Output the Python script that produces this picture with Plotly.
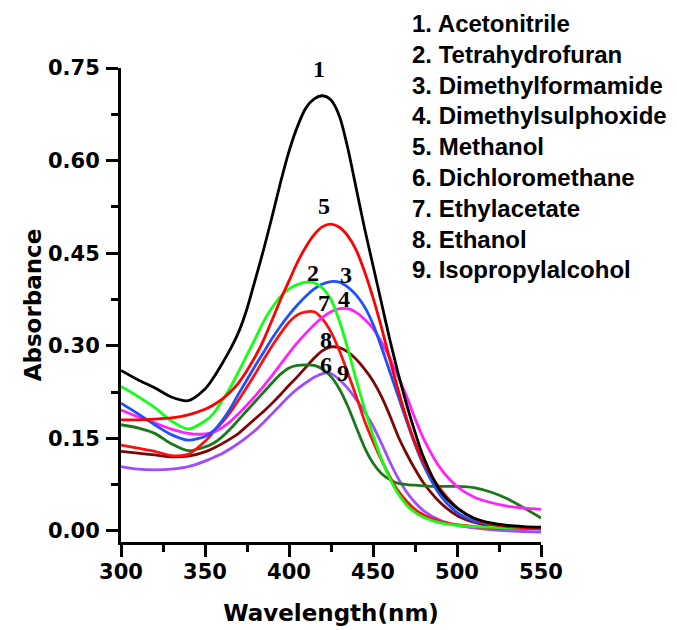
import plotly.graph_objects as go

# Wavelength grid (nm)
wavelength = [300, 310, 320, 330, 340, 350, 355, 360, 365, 370, 375, 380, 385, 390, 395,
              400, 405, 410, 415, 420, 425, 430, 435, 440, 445, 450, 455, 460, 465, 470,
              475, 480, 490, 500, 510, 520, 530, 540, 550]

acetonitrile = [0.260, 0.245, 0.232, 0.217, 0.211, 0.230, 0.248, 0.270, 0.294, 0.322, 0.360, 0.408, 0.457, 0.510, 0.565,
                0.615, 0.655, 0.685, 0.700, 0.705, 0.698, 0.672, 0.620, 0.555, 0.490, 0.430, 0.370, 0.310, 0.255, 0.205,
                0.160, 0.120, 0.065, 0.037, 0.021, 0.013, 0.009, 0.007, 0.006]
tetrahydrofuran = [0.234, 0.218, 0.200, 0.178, 0.165, 0.178, 0.190, 0.210, 0.232, 0.258, 0.285, 0.312, 0.340, 0.362, 0.380,
                   0.392, 0.399, 0.403, 0.402, 0.393, 0.375, 0.340, 0.295, 0.245, 0.198, 0.155, 0.117, 0.085, 0.060, 0.042,
                   0.030, 0.022, 0.013, 0.009, 0.007, 0.006, 0.005, 0.005, 0.005]
dimethylformamide = [0.207, 0.190, 0.172, 0.156, 0.147, 0.153, 0.162, 0.178, 0.198, 0.222, 0.245, 0.268, 0.290, 0.312, 0.332,
                     0.350, 0.366, 0.380, 0.392, 0.400, 0.404, 0.403, 0.395, 0.382, 0.363, 0.335, 0.298, 0.258, 0.218, 0.178,
                     0.140, 0.107, 0.058, 0.030, 0.016, 0.010, 0.006, 0.004, 0.003]
dimethylsulphoxide = [0.196, 0.185, 0.175, 0.165, 0.158, 0.157, 0.160, 0.167, 0.177, 0.190, 0.204, 0.219, 0.235, 0.252, 0.270,
                      0.288, 0.305, 0.320, 0.334, 0.346, 0.355, 0.360, 0.360, 0.354, 0.343, 0.328, 0.306, 0.280, 0.250, 0.218,
                      0.182, 0.150, 0.102, 0.072, 0.055, 0.046, 0.040, 0.037, 0.035]
methanol = [0.180, 0.180, 0.181, 0.183, 0.188, 0.197, 0.204, 0.213, 0.225, 0.240, 0.260, 0.283, 0.310, 0.342, 0.375,
            0.405, 0.435, 0.460, 0.480, 0.493, 0.497, 0.492, 0.478, 0.455, 0.420, 0.378, 0.330, 0.278, 0.228, 0.182,
            0.143, 0.112, 0.068, 0.038, 0.020, 0.011, 0.007, 0.005, 0.004]
dichloromethane = [0.172, 0.167, 0.158, 0.141, 0.130, 0.136, 0.142, 0.152, 0.165, 0.180, 0.195, 0.210, 0.225, 0.240, 0.254,
                   0.264, 0.268, 0.269, 0.268, 0.262, 0.250, 0.230, 0.202, 0.168, 0.135, 0.110, 0.093, 0.083, 0.077, 0.075,
                   0.074, 0.073, 0.072, 0.072, 0.070, 0.063, 0.052, 0.037, 0.021]
ethylacetate = [0.139, 0.134, 0.129, 0.122, 0.124, 0.145, 0.160, 0.175, 0.192, 0.212, 0.233, 0.255, 0.278, 0.300, 0.320,
                0.338, 0.350, 0.355, 0.355, 0.343, 0.322, 0.292, 0.256, 0.218, 0.178, 0.145, 0.115, 0.088, 0.065, 0.048,
                0.035, 0.026, 0.015, 0.010, 0.007, 0.005, 0.004, 0.004, 0.004]
ethanol = [0.129, 0.126, 0.123, 0.120, 0.121, 0.128, 0.134, 0.141, 0.149, 0.158, 0.170, 0.182, 0.194, 0.207, 0.221,
           0.236, 0.250, 0.265, 0.280, 0.292, 0.298, 0.297, 0.290, 0.278, 0.262, 0.243, 0.218, 0.187, 0.153, 0.125,
           0.100, 0.078, 0.046, 0.025, 0.014, 0.008, 0.006, 0.005, 0.004]
isopropylalcohol = [0.104, 0.100, 0.099, 0.100, 0.104, 0.113, 0.119, 0.125, 0.133, 0.142, 0.152, 0.163, 0.176, 0.190, 0.204,
                    0.218, 0.230, 0.240, 0.249, 0.255, 0.255, 0.245, 0.231, 0.213, 0.193, 0.170, 0.142, 0.112, 0.085, 0.063,
                    0.046, 0.033, 0.017, 0.009, 0.005, 0.002, 0.000, -0.001, -0.002]

solvent_names = ["Acetonitrile", "Tetrahydrofuran", "Dimethylformamide", "Dimethylsulphoxide",
                 "Methanol", "Dichloromethane", "Ethylacetate", "Ethanol", "Isopropylalcohol"]
series = [acetonitrile, tetrahydrofuran, dimethylformamide, dimethylsulphoxide,
          methanol, dichloromethane, ethylacetate, ethanol, isopropylalcohol]
colors = ["#000000", "#11FF11", "#1F4FFF", "#FF22FF", "#FF0000", "#1A781A", "#FF1010", "#7F0505", "#A04CFF"]

# Curve-number label positions (data units)
label_x = [418, 414, 434, 433, 421, 422, 421, 422, 432]
label_y = [0.748, 0.418, 0.415, 0.375, 0.526, 0.269, 0.369, 0.310, 0.256]

x_ticks = [300, 350, 400, 450, 500, 550]
y_ticks = [0.00, 0.15, 0.30, 0.45, 0.60, 0.75]
y_ticktext = ["0.00", "0.15", "0.30", "0.45", "0.60", "0.75"]

fig = go.Figure()
draw_order = [8, 7, 5, 6, 3, 2, 1, 4, 0]
for i in draw_order:
    fig.add_trace(go.Scatter(
        x=wavelength, y=series[i], mode="lines", name=solvent_names[i],
        line=dict(color=colors[i], width=2.8, shape="spline", smoothing=0.8),
        showlegend=False, hoverinfo="skip"))

serif = dict(family="Liberation Serif", size=24, color="black", weight="bold")
for i in range(9):
    fig.add_annotation(x=label_x[i], y=label_y[i], xref="x", yref="y", text=str(i + 1),
                       showarrow=False, font=serif, xanchor="center", yanchor="middle")

# plot area on screen: x 121..541.7, y 68..542 (page has 8px body offset)
legend_font = dict(family="Liberation Sans", size=24, color="black", weight="bold")
for i, name in enumerate(solvent_names):
    py = 23.4 + 30.8 * i
    fig.add_annotation(x=(410 - 121) / 420.7, y=(542 - py) / 474, xref="paper", yref="paper",
                       text=f"{i + 1}. {name}", showarrow=False, font=legend_font,
                       xanchor="left", yanchor="middle")

axis_font = dict(family="DejaVu Sans", size=21, color="black", weight="bold")
title_font = dict(family="DejaVu Sans", size=23, color="black", weight="bold")

fig.update_layout(
    width=677, height=630,
    margin=dict(l=113, r=144, t=60, b=96, pad=0),
    paper_bgcolor="white", plot_bgcolor="white",
    template="none",
    showlegend=False,
)
fig.update_xaxes(
    range=[300, 550], tickvals=x_ticks, showgrid=False, zeroline=False,
    showline=True, linecolor="black", linewidth=3, mirror=False,
    ticks="outside", ticklen=12, tickwidth=3, tickcolor="black",
    minor=dict(dtick=25, tick0=300, ticks="outside", ticklen=7, tickwidth=3, tickcolor="black", showgrid=False),
    tickfont=axis_font, automargin=False, ticklabelstandoff=-3,
    title=dict(text="Wavelength(nm)", font=title_font, standoff=22),
)
fig.update_yaxes(
    range=[-0.018, 0.75], tickvals=y_ticks, ticktext=y_ticktext, showgrid=False, zeroline=False,
    showline=True, linecolor="black", linewidth=3, mirror=False,
    ticks="outside", ticklen=12, tickwidth=3, tickcolor="black",
    minor=dict(dtick=0.075, tick0=0, ticks="outside", ticklen=7, tickwidth=3, tickcolor="black", showgrid=False),
    tickfont=axis_font, automargin=False, ticklabelstandoff=2,
    title=dict(text="Absorbance", font=title_font, standoff=0),
)

fig.write_html("out.html")
